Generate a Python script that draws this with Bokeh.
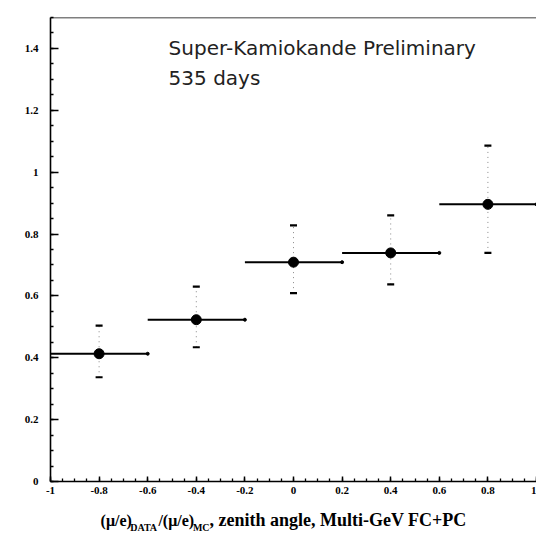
import numpy as np
from bokeh.plotting import figure
from bokeh.layouts import column
from bokeh.models import Label, Span, FixedTicker, Range1d
from bokeh.core.properties import value
from bokeh.embed import file_html
from bokeh.resources import INLINE

# ---- data ----
bin_lo = [-1.0, -0.6, -0.2, 0.2, 0.6]
bin_hi = [-0.6, -0.2, 0.2, 0.6, 1.0]
cos_zenith = [-0.8, -0.4, 0.0, 0.4, 0.8]
ratio = [0.413, 0.523, 0.709, 0.739, 0.896]
ratio_hi = [0.504, 0.630, 0.828, 0.860, 1.086]
ratio_lo = [0.337, 0.434, 0.609, 0.637, 0.739]

x_ticks = [-1.0, -0.8, -0.6, -0.4, -0.2, 0.0, 0.2, 0.4, 0.6, 0.8, 1.0]
x_tick_labels = ["-1", "-0.8", "-0.6", "-0.4", "-0.2", "0", "0.2", "0.4", "0.6", "0.8", "1"]
y_ticks = [0.0, 0.2, 0.4, 0.6, 0.8, 1.0, 1.2, 1.4]
y_tick_labels = ["0", "0.2", "0.4", "0.6", "0.8", "1", "1.2", "1.4"]

x_min, x_max = -1.0, 1.0
y_min, y_max = 0.0, 1.5

title_lines = ["Super-Kamiokande Preliminary", "535 days"]
# x-axis label pieces
xlabel_texts = ["(\u03bc/e)", "DATA", "/(\u03bc/e)", "MC", ", zenith angle, Multi-GeV FC+PC"]
xlabel_is_sub = [False, True, False, True, False]

SERIF = "Liberation Serif"

p = figure(frame_width=486, frame_height=464, width=536, height=503,
           x_range=Range1d(x_min, x_max), y_range=Range1d(y_min, y_max),
           output_backend="svg", toolbar_location=None,
           min_border_left=50, min_border_right=0, min_border_top=17, min_border_bottom=22)
p.background_fill_color = "white"
p.border_fill_color = "white"
p.outline_line_color = None
p.xgrid.visible = False
p.ygrid.visible = False

# axes
x_minor = [round(v, 3) for v in np.arange(x_min, x_max + 1e-9, 0.05)]
y_minor = [round(v, 3) for v in np.arange(y_min, y_max + 1e-9, 0.05)]
p.xaxis.ticker = FixedTicker(ticks=x_ticks, minor_ticks=x_minor)
p.yaxis.ticker = FixedTicker(ticks=y_ticks, minor_ticks=y_minor)
p.xaxis.major_label_overrides = {t: l for t, l in zip(x_ticks, x_tick_labels)}
p.yaxis.major_label_overrides = {t: l for t, l in zip(y_ticks, y_tick_labels)}
for ax in (p.xaxis, p.yaxis):
    ax.axis_line_color = "black"
    ax.axis_line_width = 1.6
    ax.major_tick_line_color = "black"
    ax.minor_tick_line_color = "black"
    ax.major_tick_line_width = 1.5
    ax.minor_tick_line_width = 1.3
    ax.major_tick_out = 0
    ax.minor_tick_out = 0
    ax.major_label_text_font = SERIF
    ax.major_label_text_font_style = "bold"
    ax.major_label_text_font_size = "11px"
    ax.major_label_text_color = "black"
p.yaxis.major_tick_in = 8
p.yaxis.minor_tick_in = 3
p.xaxis.major_tick_in = 5
p.xaxis.minor_tick_in = 3
p.yaxis.major_label_standoff = 12
p.xaxis.major_label_standoff = 5

# top frame line
p.add_layout(Span(location=y_max, dimension="width", line_color="black", line_width=1.6))

# vertical error bars (dotted) with caps
p.segment(x0=cos_zenith, y0=ratio_lo, x1=cos_zenith, y1=ratio_hi,
          line_color="#888888", line_width=1, line_dash="1 4")
p.scatter(x=cos_zenith + cos_zenith, y=ratio_hi + ratio_lo, marker="dash",
          size=7, line_color="black", line_width=2.2)

# horizontal bin bars
p.segment(x0=bin_lo, y0=ratio, x1=bin_hi, y1=ratio, line_color="black", line_width=2)
p.scatter(x=bin_hi, y=ratio, marker="circle", size=3, color="black")

# points
p.scatter(x=cos_zenith, y=ratio, marker="circle", size=10, color="black")

# text inside plot
p.add_layout(Label(x=-0.514, y=1.403, text=title_lines[0], text_font="DejaVu Sans",
                   text_font_size="20px", text_color="#222222", text_baseline="alphabetic"))
p.add_layout(Label(x=-0.514, y=1.303, text=title_lines[1], text_font="DejaVu Sans",
                   text_font_size="20px", text_color="#222222", text_baseline="alphabetic"))

# ---- x-axis label strip (with subscripts) ----
q = figure(frame_width=486, frame_height=30, width=536, height=30,
           x_range=Range1d(x_min, x_max), y_range=Range1d(0, 1),
           output_backend="svg", toolbar_location=None,
           min_border_left=50, min_border_right=0, min_border_top=0, min_border_bottom=0)
q.axis.visible = False
q.grid.visible = False
q.outline_line_color = None
q.background_fill_color = "white"
q.border_fill_color = "white"

part_x = [-0.794, -0.672, -0.556, -0.414, -0.346]
part_size = ["16px", "10px", "16px", "10px", "18px"]
for txt, sub, xx, fs in zip(xlabel_texts, xlabel_is_sub, part_x, part_size):
    q.text(x=[xx], y=[0.21 if sub else 0.44], text=[txt], text_font=value(SERIF),
           text_font_style="bold", text_font_size=fs, text_color="black",
           text_baseline="alphabetic", text_align="left")

layout = column(p, q, spacing=0)
open("out.html", "w").write(file_html(layout, INLINE))
